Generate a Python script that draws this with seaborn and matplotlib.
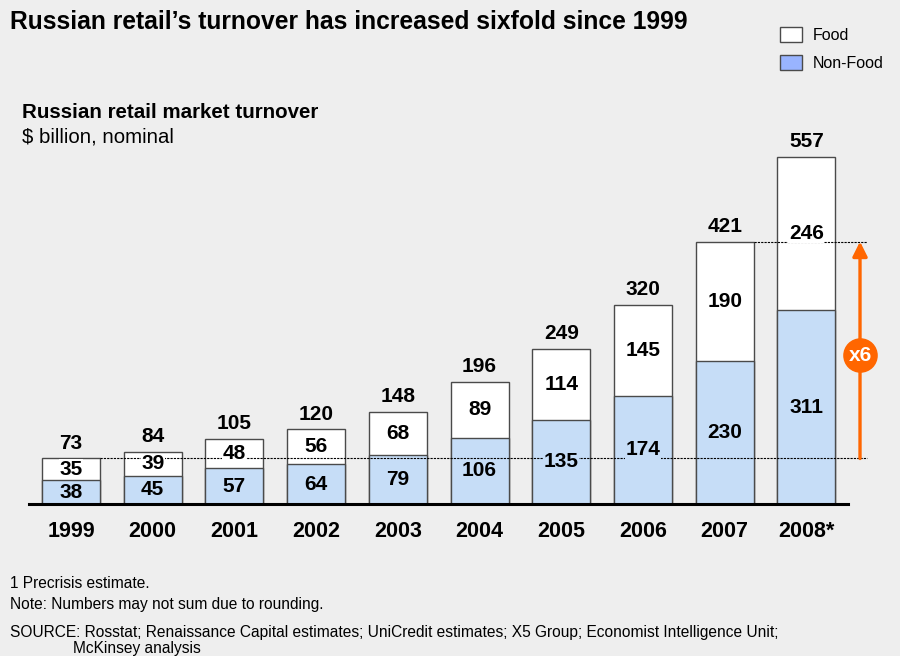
import matplotlib
matplotlib.use("Agg")
import matplotlib.pyplot as plt
from matplotlib.patches import Rectangle
import seaborn as sns
import pandas as pd

# Russian retail market turnover, $ billion nominal
years = ["1999", "2000", "2001", "2002", "2003", "2004", "2005", "2006", "2007", "2008*"]
non_food = [38, 45, 57, 64, 79, 106, 135, 174, 230, 311]
food = [35, 39, 48, 56, 68, 89, 114, 145, 190, 246]
total = [73, 84, 105, 120, 148, 196, 249, 320, 421, 557]

BG = "#EEEEEE"
BLUE = "#C6DDF7"
LEGEND_BLUE = "#99B4FF"
EDGE = "#4A4A4A"
ORANGE = "#FF6600"
FONT = "Liberation Sans"

sns.set_theme(style="white")
plt.rcParams["font.family"] = [FONT, "DejaVu Sans"]
plt.rcParams["text.color"] = "black"
plt.rcParams["xtick.color"] = "black"

df = pd.DataFrame({"year": years, "non_food": non_food, "food": food, "total": total})

fig = plt.figure(figsize=(9, 6.56), dpi=100, facecolor=BG)
W, H = 900, 656
ax = fig.add_axes([29 / W, (H - 504) / H, (848 - 29) / W, 374 / H])
ax.set_facecolor(BG)

BAR_W = 0.71
sns.barplot(data=df, x="year", y="total", color="white", saturation=1,
            edgecolor=EDGE, linewidth=1.0, width=BAR_W, ax=ax, zorder=2)
sns.barplot(data=df, x="year", y="non_food", color=BLUE, saturation=1,
            edgecolor=EDGE, linewidth=1.0, width=BAR_W, ax=ax, zorder=2)

ax.set_xlim(-0.514, 9.51)
ax.set_ylim(0, 600)
ax.set_xlabel("")
ax.set_ylabel("")
ax.set_yticks([])
ax.tick_params(axis="x", length=0, pad=12)
for lab in ax.get_xticklabels():
    lab.set_fontweight("bold")
    lab.set_fontsize(15.5)
    lab.set_fontfamily(FONT)
for s in ["top", "right", "left"]:
    ax.spines[s].set_visible(False)
ax.spines["bottom"].set_color("black")
ax.spines["bottom"].set_linewidth(2.2)
ax.spines["bottom"].set_zorder(5)

# growth reference lines and arrow
x_arrow = 9.657
x_end = 9.74
half = BAR_W / 2
ax.plot([0 + half, x_end], [total[0], total[0]], color="black", lw=0.8,
        ls=(0, (2, 1)), zorder=3, clip_on=False)
ax.plot([8 + half, x_end], [total[8], total[8]], color="black", lw=0.8,
        ls=(0, (2, 1)), zorder=3, clip_on=False)
ax.annotate("", xy=(x_arrow, total[8]), xytext=(x_arrow, total[0]),
            arrowprops=dict(arrowstyle="-|>", color=ORANGE, lw=2.4,
                            mutation_scale=22, shrinkA=0, shrinkB=0),
            annotation_clip=False, zorder=4)
ax.scatter([x_arrow], [239], s=620, color=ORANGE, zorder=6, clip_on=False, linewidths=0)
ax.text(x_arrow, 239, "x6", color="white", fontsize=15, fontweight="bold",
        ha="center", va="center", zorder=7)

# value labels
FS = 15
lab_kw = dict(fontsize=FS, fontweight="bold", ha="center", va="center", zorder=8)
for i in range(len(years)):
    ax.text(i, non_food[i] / 2, str(non_food[i]),
            bbox=dict(facecolor=BLUE, edgecolor="none", pad=0.3), **lab_kw)
    ax.text(i, non_food[i] + (total[i] - non_food[i]) / 2, str(food[i]),
            bbox=dict(facecolor="white", edgecolor="none", pad=0.3), **lab_kw)
    ax.annotate(str(total[i]), xy=(i, total[i]), xytext=(0, 4),
                textcoords="offset points", ha="center", va="bottom",
                fontsize=FS, fontweight="bold", zorder=8)

# legend swatches
def frect(x0, y0, x1, y1, fc):
    fig.patches.append(Rectangle((x0 / W, 1 - y1 / H), (x1 - x0) / W, (y1 - y0) / H,
                                 transform=fig.transFigure, facecolor=fc,
                                 edgecolor=EDGE, linewidth=1.0))

def ftext(x, y, s, **kw):
    fig.text(x / W, 1 - y / H, s, va="center", ha="left", **kw)

frect(780, 27, 802, 42, "white")
frect(780, 55, 802, 70, LEGEND_BLUE)
ftext(813, 35, "Food", fontsize=11.5)
ftext(813, 63, "Non-Food", fontsize=11.5)

# titles and notes
ftext(10, 22, "Russian retail’s turnover has increased sixfold since 1999",
      fontsize=17.7, fontweight="bold")
ftext(22, 113, "Russian retail market turnover", fontsize=14.8, fontweight="bold")
ftext(22, 137, "$ billion, nominal", fontsize=14.7)
ftext(10, 584, "1 Precrisis estimate.", fontsize=11.2)
ftext(10, 604, "Note: Numbers may not sum due to rounding.", fontsize=11.2)
ftext(10, 632, "SOURCE: Rosstat; Renaissance Capital estimates; UniCredit estimates; "
      "X5 Group; Economist Intelligence Unit;", fontsize=11.2)
ftext(73, 649, "McKinsey analysis", fontsize=11.2)

fig.savefig("out.png", dpi=100, facecolor=BG)
